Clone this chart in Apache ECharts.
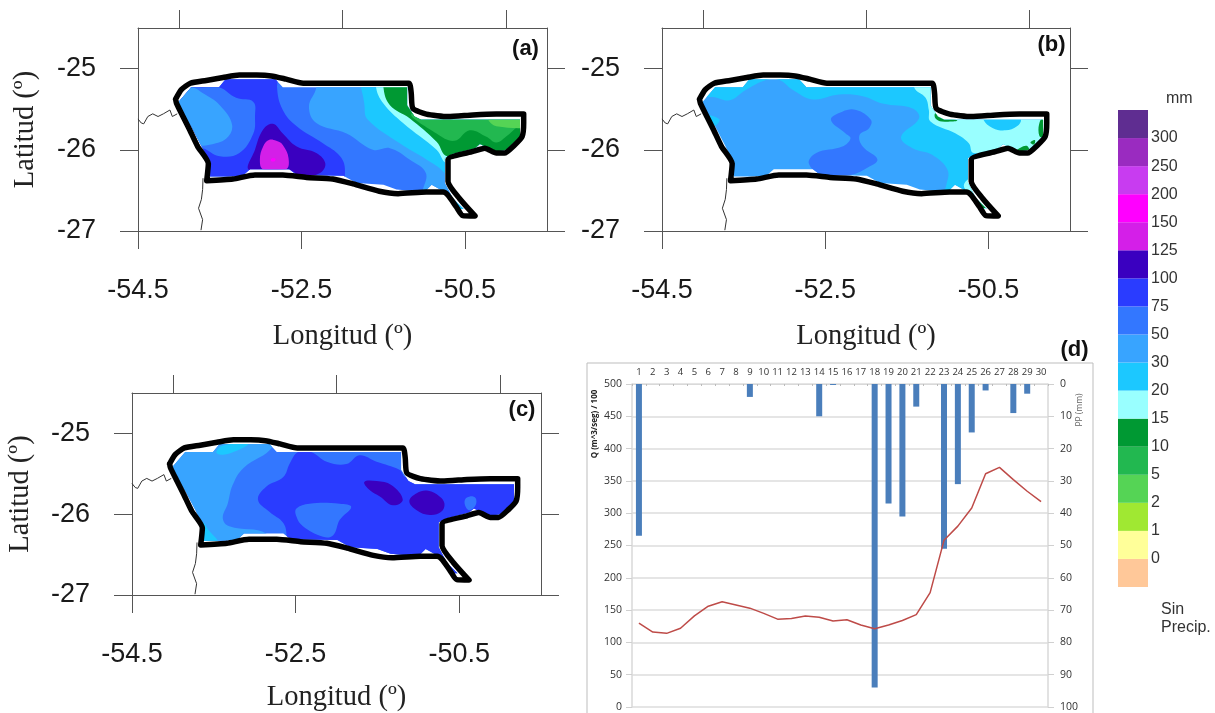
<!DOCTYPE html>
<html><head><meta charset="utf-8">
<style>html,body{margin:0;padding:0;background:#fff}#c{width:1215px;height:713px}</style>
<script src="https://cdn.jsdelivr.net/npm/echarts@6/dist/echarts.min.js"></script>
</head><body><div id="c"></div>
<script>
// ---------- precipitation classes ----------
const bandLabels = ['Sin Precip.','0','1','2','5','10','15','20','30','50','75','100','125','150','200','250','300'];
const bandColors = ['#ffc899','#ffff99','#a0e832','#55d455','#22b850','#009933','#99ffff','#1cc8ff','#38a4ff','#3377ff','#2a3cff','#3a00c0','#d41fe8','#ff00ff','#c83cf0','#9a2bc0','#5f2d91'];
const legendTicks = ['0','1','2','5','10','15','20','30','50','75','100','125','150','200','250','300'];
const C = {b2:3,b5:4,b10:5,b15:6,b20:7,b30:8,b50:9,b75:10,b100:11,b125:12,b150:13};

// ---------- geography [lon, lat] ----------
const basinOutline = [[-54.04,-25.376],[-53.97,-25.26],[-53.86,-25.18],[-53.665,-25.146],[-53.46,-25.11],[-53.26,-25.08],[-53.05,-25.08],[-52.87,-25.09],[-52.69,-25.13],[-52.48,-25.18],[-51.19,-25.18],[-51.16,-25.30],[-51.14,-25.49],[-50.975,-25.56],[-50.71,-25.59],[-50.405,-25.57],[-50.12,-25.56],[-49.785,-25.56],[-49.785,-25.67],[-49.805,-25.84],[-49.895,-25.94],[-50.02,-26.04],[-50.12,-26.04],[-50.26,-25.98],[-50.405,-26.02],[-50.71,-26.12],[-50.71,-26.39],[-50.57,-26.60],[-50.38,-26.815],[-50.53,-26.81],[-50.61,-26.70],[-50.71,-26.56],[-50.77,-26.52],[-50.975,-26.52],[-51.32,-26.54],[-51.55,-26.51],[-51.87,-26.42],[-52.12,-26.36],[-52.44,-26.34],[-52.73,-26.31],[-53.07,-26.31],[-53.34,-26.36],[-53.66,-26.38],[-53.64,-26.17],[-53.77,-25.96],[-53.87,-25.75],[-53.95,-25.59],[-54.03,-25.425],[-54.04,-25.376]];
const fillMask = [[-54.02,-25.43],[-53.85,-25.23],[-53.51,-25.23],[-53.43,-25.13],[-52.82,-25.13],[-52.73,-25.23],[-51.21,-25.23],[-51.21,-25.45],[-51.12,-25.59],[-51.04,-25.63],[-49.83,-25.63],[-49.83,-25.84],[-50.0,-26.0],[-50.12,-26.02],[-50.2,-25.99],[-50.32,-25.93],[-50.38,-25.98],[-50.65,-26.05],[-50.75,-26.10],[-50.75,-26.41],[-50.65,-26.60],[-50.52,-26.73],[-50.57,-26.73],[-50.65,-26.65],[-50.75,-26.52],[-50.91,-26.43],[-51.0,-26.52],[-51.34,-26.49],[-51.5,-26.43],[-51.83,-26.41],[-51.99,-26.32],[-52.56,-26.31],[-52.65,-26.24],[-53.13,-26.24],[-53.22,-26.32],[-53.4,-26.33],[-53.62,-26.33],[-53.62,-26.17],[-53.73,-25.94],[-53.85,-25.71],[-53.93,-25.59]];
const borderWest = [[-54.5,-25.62],[-54.46,-25.67],[-54.43,-25.68],[-54.38,-25.59],[-54.32,-25.557],[-54.255,-25.59],[-54.19,-25.557],[-54.11,-25.51],[-54.08,-25.59],[-54.02,-25.557]];
const borderSouth = [[-53.705,-26.35],[-53.71,-26.49],[-53.725,-26.61],[-53.76,-26.72],[-53.71,-26.86],[-53.73,-26.99]];
const wholeBox = [[-54.3,-24.9],[-49.6,-24.9],[-49.6,-26.95],[-54.3,-26.95]];

// ---------- panel (a) contours ----------
const a75 = [[-54.11,-24.89],[-52.77,-24.89],[-52.80,-25.23],[-52.73,-25.51],[-52.56,-25.71],[-52.24,-25.92],[-52.03,-26.08],[-51.97,-26.25],[-52.03,-26.41],[-54.11,-26.41]];
const a50w = [[-54.11,-25.18],[-53.75,-25.23],[-53.51,-25.23],[-53.30,-25.36],[-53.09,-25.41],[-53.07,-25.59],[-53.09,-25.80],[-53.26,-26.04],[-53.50,-26.08],[-53.71,-25.98],[-54.11,-25.92]];
const a30w = [[-54.11,-25.26],[-53.85,-25.23],[-53.71,-25.30],[-53.50,-25.45],[-53.35,-25.69],[-53.42,-25.86],[-53.64,-25.94],[-53.75,-25.94],[-54.11,-25.75]];
const a100 = [[-52.85,-25.68],[-52.97,-25.75],[-53.07,-26.0],[-53.14,-26.25],[-52.65,-26.25],[-52.50,-26.33],[-52.28,-26.29],[-52.21,-26.17],[-52.32,-26.04],[-52.56,-25.96],[-52.73,-25.80]];
const a125 = [[-52.90,-25.88],[-52.97,-25.96],[-53.01,-26.12],[-52.97,-26.24],[-52.69,-26.24],[-52.66,-26.10],[-52.73,-25.94],[-52.81,-25.89]];
const a150 = [[-52.87,-26.11],[-52.82,-26.11],[-52.83,-26.14],[-52.87,-26.14]];
const a30e = [[-52.32,-24.89],[-52.32,-25.23],[-52.41,-25.47],[-52.32,-25.67],[-51.95,-25.80],[-51.63,-26.0],[-51.42,-25.98],[-51.18,-26.12],[-50.98,-26.29],[-51.0,-26.58],[-50.24,-26.91],[-49.6,-26.91],[-49.6,-24.89]];
const a20 = [[-51.73,-24.89],[-51.73,-25.47],[-51.69,-25.63],[-51.30,-25.92],[-50.975,-26.12],[-50.75,-26.29],[-50.72,-26.43],[-50.59,-26.70],[-50.44,-26.82],[-49.6,-26.82],[-49.6,-24.89]];
const a15 = [[-51.59,-24.89],[-51.59,-25.23],[-51.50,-25.43],[-51.26,-25.67],[-50.85,-26.0],[-50.71,-26.17],[-49.6,-26.17],[-49.6,-24.89]];
const a10 = [[-51.50,-24.89],[-51.50,-25.23],[-51.42,-25.45],[-51.18,-25.61],[-50.85,-25.90],[-50.71,-26.08],[-49.6,-26.08],[-49.6,-24.89]];
const a5 = [[-51.14,-25.55],[-49.6,-25.55],[-49.6,-25.71],[-49.83,-25.71],[-49.98,-25.82],[-50.12,-25.91],[-50.24,-25.84],[-50.445,-25.76],[-50.63,-25.89],[-50.85,-25.80]];
const a2 = [[-50.21,-25.61],[-49.6,-25.61],[-49.6,-25.71],[-50.12,-25.71]];

// ---------- panel (b) contours ----------
const b20 = [[-54.24,-25.35],[-53.88,-25.35],[-53.67,-25.39],[-53.47,-25.26],[-53.225,-25.14],[-53.06,-25.14],[-52.90,-25.26],[-52.65,-25.38],[-52.33,-25.32],[-52.04,-25.34],[-51.80,-25.43],[-51.43,-25.49],[-51.35,-25.61],[-51.57,-25.84],[-51.43,-25.98],[-51.19,-26.06],[-51.0,-26.25],[-51.02,-26.45],[-51.07,-26.62],[-50.58,-26.91],[-49.6,-26.91],[-49.6,-24.89],[-54.24,-24.89]];
const b20w = [[-54.04,-25.57],[-53.80,-25.62],[-53.86,-25.71],[-54.04,-25.69]];
const b15 = [[-51.41,-24.89],[-51.41,-25.23],[-51.27,-25.36],[-51.23,-25.51],[-51.21,-25.65],[-50.90,-25.80],[-50.74,-25.92],[-50.68,-26.04],[-49.6,-26.04],[-49.6,-24.89]];
const b15tail = [[-50.80,-26.43],[-50.64,-26.64],[-50.41,-26.86],[-50.17,-26.86],[-50.58,-26.33]];
const b20e = [[-50.56,-25.63],[-50.45,-25.73],[-50.29,-25.76],[-50.15,-25.71],[-50.10,-25.63],[-50.17,-25.53],[-50.535,-25.53]];
const b50 = [[-52.43,-25.63],[-52.29,-25.53],[-52.12,-25.51],[-51.94,-25.63],[-51.96,-25.73],[-52.08,-25.82],[-52.04,-25.96],[-51.86,-26.12],[-52.0,-26.23],[-52.19,-26.31],[-52.51,-26.33],[-52.70,-26.17],[-52.61,-26.04],[-52.29,-25.96],[-52.19,-25.86],[-52.25,-25.80]];
const b10a = [[-51.15,-25.55],[-51.07,-25.59],[-50.88,-25.64],[-51.07,-25.65],[-51.15,-25.61]];
const b10b = [[-49.86,-25.63],[-49.78,-25.63],[-49.78,-25.83],[-49.875,-25.83]];
const b10c = [[-50.17,-26.02],[-50.03,-25.95],[-50.0,-26.06],[-50.15,-26.06]];
const b10d = [[-49.985,-25.91],[-49.93,-25.88],[-49.94,-25.935]];
const b10e = [[-50.64,-26.58],[-50.58,-26.56],[-50.515,-26.70],[-50.58,-26.71]];

// ---------- panel (c) contours ----------
const c30 = [[-54.24,-24.84],[-52.78,-24.84],[-52.78,-25.16],[-53.14,-25.43],[-53.27,-25.64],[-53.33,-25.87],[-53.39,-26.05],[-53.31,-26.15],[-52.86,-26.24],[-52.86,-26.44],[-54.24,-26.44]];
const c75 = [[-52.47,-25.23],[-52.31,-25.23],[-52.12,-25.35],[-51.88,-25.38],[-51.72,-25.27],[-51.51,-25.35],[-51.23,-25.45],[-51.15,-25.54],[-49.6,-25.54],[-49.6,-26.85],[-52.61,-26.85],[-52.61,-26.28],[-52.65,-26.11],[-52.82,-25.97],[-52.96,-25.82],[-52.86,-25.66],[-52.65,-25.54],[-52.57,-25.37]];
const c50m = [[-52.49,-25.93],[-52.33,-25.87],[-51.96,-25.87],[-51.82,-25.91],[-51.96,-26.07],[-52.04,-26.26],[-52.165,-26.28],[-52.41,-26.15],[-52.49,-26.03]];
const c100a = [[-51.66,-25.60],[-51.51,-25.59],[-51.33,-25.64],[-51.19,-25.82],[-51.31,-25.89],[-51.47,-25.78],[-51.595,-25.70]];
const c100b = [[-51.11,-25.84],[-51.02,-25.74],[-50.88,-25.71],[-50.74,-25.78],[-50.68,-25.87],[-50.72,-25.97],[-50.86,-26.01],[-51.02,-25.95]];
const c50e = [[-50.43,-25.82],[-50.37,-25.78],[-50.30,-25.80],[-50.30,-25.89],[-50.37,-25.95],[-50.42,-25.91]];
const c20n = [[-53.47,-25.23],[-53.39,-25.15],[-53.08,-25.13],[-53.31,-25.25],[-53.43,-25.26]];
const c20s = [[-53.63,-26.11],[-53.57,-26.19],[-53.45,-26.36],[-53.71,-26.40]];
const c50t = [[-50.58,-26.65],[-50.515,-26.65],[-50.515,-26.73]];

const layersA = [[wholeBox,C.b50],[a75,C.b75],[a50w,C.b50],[a30w,C.b30],[a100,C.b100],[a125,C.b125],[a150,C.b150],[a30e,C.b30],[a20,C.b20],[a15,C.b15],[a10,C.b10],[a5,C.b5],[a2,C.b2]];
const layersB = [[wholeBox,C.b30],[b20,C.b20],[b20w,C.b20],[b15,C.b15],[b15tail,C.b15],[b20e,C.b20],[b50,C.b50],[b10a,C.b10],[b10b,C.b10],[b10c,C.b10],[b10d,C.b10],[b10e,C.b10]];
const layersC = [[wholeBox,C.b50],[c30,C.b30],[c75,C.b75],[c50m,C.b50],[c100a,C.b100],[c100b,C.b100],[c50e,C.b50],[c20n,C.b20],[c20s,C.b20],[c50t,C.b50]];

// ---------- panel axes ----------
const lonTicksBottom = [-54.5,-52.5,-50.5];
const lonTicksTop = [-54,-52,-50];
const latTicks = [-27,-26,-25];
const panelLetters = ['(a)','(b)','(c)','(d)'];

// ---------- panel (d) ----------
const days = ['1','2','3','4','5','6','7','8','9','10','11','12','13','14','15','16','17','18','19','20','21','22','23','24','25','26','27','28','29','30'];
const precipMm = [47,0,0,0,0,0,0,0,4,0,0,0,0,10,0.3,0,0,94,37,41,7,0,51,31,15,2,0,9,3,0];
const discharge = [130,116,114,122,141,156,163,158,153,145,136,137,141,139,133,135,127,121,127,134,143,177,258,280,308,361,371,352,334,318];

// ---------- layout ----------
const panels = [
  {left:138,top:28,width:409,height:203,layers:layersA,yName:true,nameGap:103,latGap:98},
  {left:662,top:28,width:408,height:203,layers:layersB,yName:false,nameGap:103,latGap:98},
  {left:132,top:393,width:409,height:202,layers:layersC,yName:true,nameGap:100,latGap:97}
];
const grids=[],xAxes=[],yAxes=[],series=[];
const axisStyle={show:true,onZero:false,lineStyle:{color:'#555',width:1}};
const tickFont={fontFamily:'Liberation Sans',fontSize:27,color:'#1a1a1a'};
const nameFont={fontFamily:'Liberation Serif',fontSize:28.5,color:'#222'};
panels.forEach((p,i)=>{
  grids.push({left:p.left,top:p.top,width:p.width,height:p.height});
  const xb=xAxes.length, yl=yAxes.length;
  xAxes.push({gridIndex:i,type:'value',position:'bottom',min:-54.5,max:-49.5,interval:0.5,splitLine:{show:false},axisLine:axisStyle,
    axisTick:{show:true,length:18,customValues:lonTicksBottom,lineStyle:{color:'#555'}},
    axisLabel:Object.assign({show:true,customValues:lonTicksBottom,margin:46,formatter:v=>v.toFixed(1)},tickFont),
    name:'Longitud (º)',nameLocation:'middle',nameGap:p.nameGap-12,nameTextStyle:nameFont});
  xAxes.push({gridIndex:i,type:'value',position:'top',min:-54.5,max:-49.5,interval:0.5,splitLine:{show:false},axisLine:axisStyle,
    axisTick:{show:true,length:18,customValues:lonTicksTop,lineStyle:{color:'#555'}},axisLabel:{show:false}});
  const ya={gridIndex:i,type:'value',position:'left',min:-27,max:-24.5,interval:0.5,splitLine:{show:false},axisLine:axisStyle,
    axisTick:{show:true,length:18,customValues:latTicks,lineStyle:{color:'#555'}},
    axisLabel:Object.assign({show:true,customValues:latTicks,margin:42,padding:[4,0,0,0],formatter:v=>String(v)},tickFont)};
  if(p.yName) Object.assign(ya,{name:'Latitud (º)',nameLocation:'middle',nameGap:p.latGap,nameRotate:90,nameTextStyle:nameFont});
  yAxes.push(ya);
  yAxes.push({gridIndex:i,type:'value',position:'right',min:-27,max:-24.5,interval:0.5,splitLine:{show:false},axisLine:axisStyle,
    axisTick:{show:true,length:18,customValues:latTicks,lineStyle:{color:'#555'}},axisLabel:{show:false}});
  const lines=[[borderWest,'#333',1],[borderSouth,'#333',1]];
  lines.forEach(l=>series.push({type:'line',xAxisIndex:xb,yAxisIndex:yl,data:l[0],showSymbol:false,silent:true,animation:false,clip:false,lineStyle:{color:l[1],width:l[2]},z:2}));
  series.push({type:'custom',coordinateSystem:'cartesian2d',xAxisIndex:xb,yAxisIndex:yl,clip:false,silent:true,animation:false,z:3,
    data:p.layers.map((l,k)=>[k]),
    encode:{x:0,y:0},
    renderItem:(params,api)=>{
      const l=p.layers[params.dataIndex];
      return {type:'polygon',shape:{points:l[0].map(c=>api.coord(c)),smooth:l[0]===wholeBox?0:0.4},
        style:{fill:bandColors[l[1]],stroke:null},
        clipPath:{type:'polygon',shape:{points:fillMask.map(c=>api.coord(c))}}};
    }});
  series.push({type:'line',xAxisIndex:xb,yAxisIndex:yl,data:basinOutline,showSymbol:false,silent:true,animation:false,clip:false,smooth:0.2,lineStyle:{color:'#000',width:5.5,join:'round',cap:'round'},z:4});
});

// panel (d)
const gd=grids.length;
grids.push({left:632,top:384,width:416,height:323});
const xd=xAxes.length;
xAxes.push({gridIndex:gd,type:'category',position:'top',data:days,boundaryGap:true,
  axisLine:{show:true,onZero:false,lineStyle:{color:'#d9d9d9'}},
  axisTick:{show:true,inside:true,length:2,lineStyle:{color:'#bbb'}},
  axisLabel:{interval:0,margin:7,fontFamily:'Open Sans',fontSize:9.5,color:'#333'},splitLine:{show:false}});
const yd=yAxes.length;
const softLabel={fontFamily:'Open Sans',fontSize:10.5,color:'#333'};
yAxes.push({gridIndex:gd,type:'value',position:'left',min:0,max:500,interval:50,
  axisLine:{show:true,onZero:false,lineStyle:{color:'#d9d9d9',width:1.5}},
  axisTick:{show:true,length:6,lineStyle:{color:'#d0d0d0'}},
  axisLabel:Object.assign({margin:10},softLabel),
  splitLine:{show:true,lineStyle:{color:'#dcdcdc',width:1.5}}});
yAxes.push({gridIndex:gd,type:'value',position:'right',min:0,max:100,interval:10,inverse:true,
  axisLine:{show:true,onZero:false,lineStyle:{color:'#d9d9d9',width:1.5}},
  axisTick:{show:true,length:6,lineStyle:{color:'#d0d0d0'}},
  axisLabel:Object.assign({margin:12},softLabel),splitLine:{show:false}});
series.push({type:'bar',xAxisIndex:xd,yAxisIndex:yd+1,data:precipMm,barWidth:6,silent:true,animation:false,itemStyle:{color:'#4a7ebb'},z:3});
series.push({type:'line',xAxisIndex:xd,yAxisIndex:yd,data:discharge,showSymbol:false,silent:true,animation:false,lineStyle:{color:'#be4b48',width:1.5},z:4});

// colour legend
const gl=grids.length;
grids.push({left:1118,top:110,width:30,height:477});
const xl=xAxes.length;
xAxes.push({gridIndex:gl,type:'value',min:0,max:1,show:false});
const yl=yAxes.length;
const legendTickPos=legendTicks.map((t,i)=>i+1);
yAxes.push({gridIndex:gl,type:'value',position:'right',min:0,max:17,interval:1,
  axisLine:{show:false,onZero:false},axisTick:{show:false},splitLine:{show:false},
  axisLabel:{show:true,customValues:legendTickPos,margin:3,padding:[3,0,0,0],formatter:v=>legendTicks[v-1],fontFamily:'Liberation Sans',fontSize:16,color:'#333'}});
series.push({type:'custom',coordinateSystem:'cartesian2d',xAxisIndex:xl,yAxisIndex:yl,silent:true,animation:false,clip:false,
  data:bandColors.map((c,i)=>[0,i]),encode:{x:0,y:1},
  renderItem:(params,api)=>{
    const i=api.value(1),a=api.coord([0,i+1]),b=api.coord([1,i]);
    return {type:'rect',shape:{x:a[0],y:a[1],width:b[0]-a[0],height:b[1]-a[1]},style:{fill:bandColors[i]}};
  }});

const letterStyle={fontFamily:'Liberation Sans',fontWeight:'bold',fontSize:22,fill:'#111',textAlign:'center',textVerticalAlign:'middle'};
const txt=(x,y,text,extra,rot)=>({type:'text',x,y,rotation:rot||0,silent:true,style:Object.assign({text,textAlign:'left',textVerticalAlign:'middle'},extra)});
const legendText={fontFamily:'Liberation Sans',fontSize:16,fill:'#333'};
const chart=echarts.init(document.getElementById('c'),null,{renderer:'canvas'});
chart.setOption({
  animation:false,backgroundColor:'#fff',grid:grids,xAxis:xAxes,yAxis:yAxes,series,
  graphic:{elements:[
    {type:'rect',silent:true,z:-1,shape:{x:587,y:363,width:506,height:370},style:{fill:'none',stroke:'#bdbdbd',lineWidth:1}},
    txt(525.5,49,panelLetters[0],letterStyle),
    txt(1051.5,45,panelLetters[1],letterStyle),
    txt(522,410,panelLetters[2],letterStyle),
    txt(1074.5,350,panelLetters[3],letterStyle),
    txt(1166,99,'mm',legendText),
    txt(1161,610,'Sin',legendText),
    txt(1161,628,'Precip.',legendText),
    txt(595,424,'Q (m^3/seg) / 100',{fontFamily:'Open Sans',fontWeight:'bold',fontSize:8,fill:'#222',textAlign:'center'},Math.PI/2),
    txt(1080,410,'PP (mm)',{fontFamily:'Open Sans',fontSize:8.5,fill:'#666',textAlign:'center'},Math.PI/2)
  ]}
});
</script></body></html>
